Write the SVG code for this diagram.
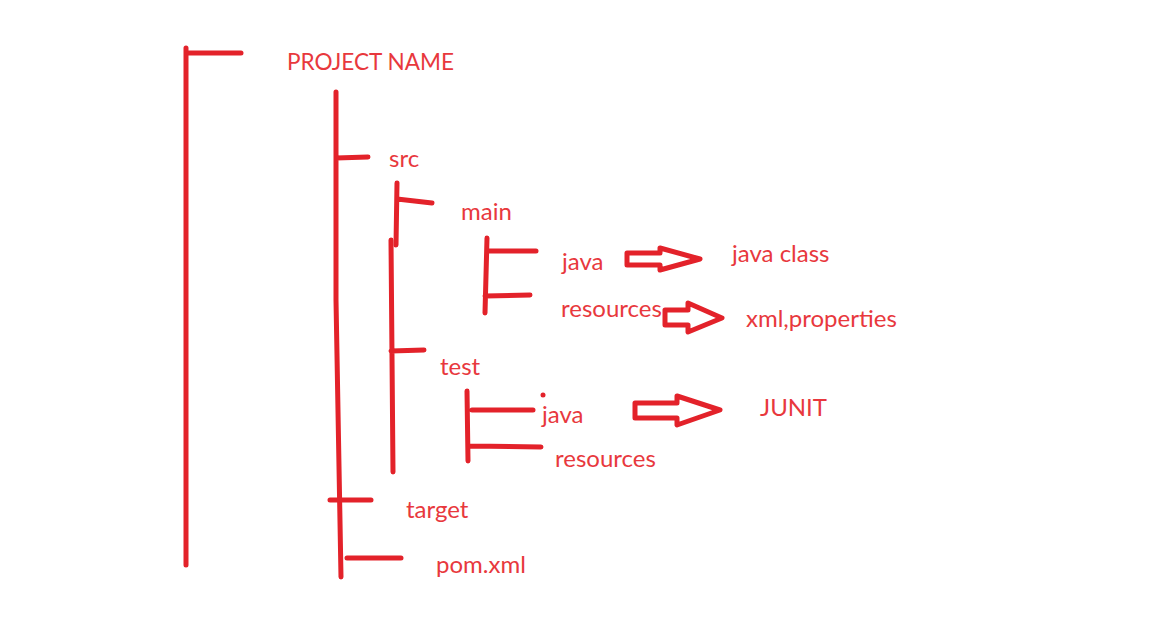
<svg xmlns="http://www.w3.org/2000/svg" width="1152" height="639" viewBox="0 0 1152 639">
<style>
.ln{fill:none;stroke:#e3222a;stroke-width:5;stroke-linecap:round;stroke-linejoin:round}
.ar{fill:#ffffff;stroke:#e3222a;stroke-width:5;stroke-linejoin:round}
text{font-family:Lato,"Open Sans","Liberation Sans",sans-serif;font-size:24px;fill:#e8383d}
</style>
<rect width="1152" height="639" fill="#ffffff"/>
<g id="connectors">
<path class="ln" d="M186,48 L186,565 M186,53 L241,53"/>
<path class="ln" d="M336,92 L336,300 L341,577 M336,158 L368,157"/>
<path class="ln" d="M397,183 L396,245 M397,199 L432,203"/>
<path class="ln" d="M391,240 L393,472 M391,351 L424,350"/>
<path class="ln" d="M487,238 L485,313 M487,251 L536,251 M485,296 L530,295"/>
<path class="ln" d="M467,391 L468,461 M472,410 L533,410 M470,446 L541,447"/>
<circle cx="543" cy="395" r="2.5" fill="#e3222a"/>
<path class="ln" d="M330,500 L371,500 M347,558 L401,558"/>
<path class="ar" d="M627,253 L660,253 L660,248 L700,259 L660,270 L660,265 L627,265 Z"/>
<path class="ar" d="M665,310 L688,310 L688,303 L722,318 L688,332 L688,325 L665,325 Z"/>
<path class="ar" d="M635,403 L677,403 L677,396 L720,410 L677,425 L677,418 L635,418 Z"/>
</g>
<g id="n-project"><text x="287" y="70" textLength="167" lengthAdjust="spacingAndGlyphs" style="font-size:23px">PROJECT NAME</text></g>
<g id="n-src"><text x="389" y="167">src</text></g>
<g id="n-main"><text x="461" y="220">main</text></g>
<g id="n-main-java"><text x="562" y="270">java</text></g>
<g id="n-main-resources"><text x="561" y="317">resources</text></g>
<g id="n-java-class"><text x="732" y="262">java class</text></g>
<g id="n-xml"><text x="746" y="327">xml,properties</text></g>
<g id="n-test"><text x="440" y="375">test</text></g>
<g id="n-test-java"><text x="542" y="423">java</text></g>
<g id="n-test-resources"><text x="555" y="467">resources</text></g>
<g id="n-junit"><text x="760" y="416">JUNIT</text></g>
<g id="n-target"><text x="406" y="518">target</text></g>
<g id="n-pom"><text x="436" y="573">pom.xml</text></g>
</svg>
